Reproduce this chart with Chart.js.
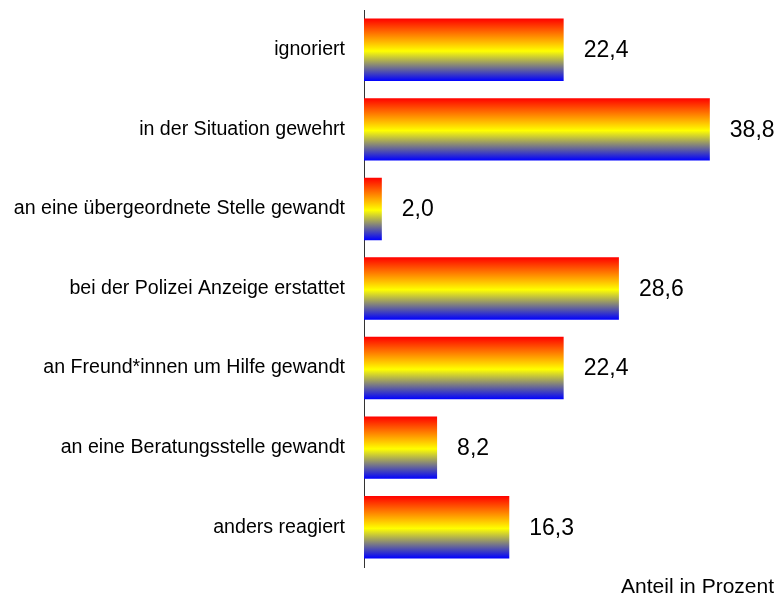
<!DOCTYPE html>
<html>
<head>
<meta charset="utf-8">
<script src="https://cdn.jsdelivr.net/npm/chart.js@4/dist/chart.umd.min.js"></script>
<style>
  html, body { margin: 0; padding: 0; background: #fff; }
  canvas { display: block; }
</style>
</head>
<body>
<canvas id="reactionChart" width="779" height="598"></canvas>
<script>
// Data
const categories = [
  'ignoriert',
  'in der Situation gewehrt',
  'an eine übergeordnete Stelle gewandt',
  'bei der Polizei Anzeige erstattet',
  'an Freund*innen um Hilfe gewandt',
  'an eine Beratungsstelle gewandt',
  'anders reagiert'
];
const shares = [22.4, 38.8, 2.0, 28.6, 22.4, 8.2, 16.3];
const axisTitle = 'Anteil in Prozent';

const FONT = 'Arial, "Liberation Sans", sans-serif';

// ---- gradient fill per bar (red -> yellow -> blue, top to bottom) ----
const barGradient = {
  id: 'barGradient',
  beforeDatasetsDraw(chart) {
    const ctx = chart.ctx;
    chart.getDatasetMeta(0).data.forEach(bar => {
      const top = bar.y - bar.height / 2;
      const g = ctx.createLinearGradient(0, top, 0, top + bar.height);
      g.addColorStop(0, '#ff0000');
      g.addColorStop(0.52, '#ffff00');
      g.addColorStop(1, '#0000ff');
      // options object is shared between bars, so give each its own copy
      bar.options = Object.assign({}, bar.options, { backgroundColor: g });
    });
  }
};

// ---- value labels to the right of each bar ----
const valueLabels = {
  id: 'valueLabels',
  afterDatasetsDraw(chart) {
    const ctx = chart.ctx;
    ctx.save();
    ctx.font = '23px ' + FONT;
    ctx.fillStyle = '#000';
    ctx.textAlign = 'left';
    ctx.textBaseline = 'middle';
    chart.getDatasetMeta(0).data.forEach((bar, i) => {
      ctx.fillText(shares[i].toFixed(1).replace('.', ','), bar.x + 20, bar.y + 1);
    });
    ctx.restore();
  }
};

new Chart(document.getElementById('reactionChart'), {
  type: 'bar',
  data: {
    labels: categories,
    datasets: [{
      data: shares,
      backgroundColor: '#ff0',
      borderWidth: 0,
      categoryPercentage: 1,
      barPercentage: 0.785
    }]
  },
  options: {
    indexAxis: 'y',
    responsive: false,
    animation: false,
    layout: { padding: { top: 10, right: 5, bottom: 0, left: 0 } },
    plugins: {
      legend: { display: false },
      tooltip: { enabled: false }
    },
    scales: {
      x: {
        min: 0,
        max: 46,
        grid: { display: false, drawTicks: false },
        border: { display: false },
        ticks: { display: false },
        title: {
          display: true,
          text: axisTitle,
          align: 'end',
          color: '#000',
          font: { family: FONT, size: 21, lineHeight: 1 },
          padding: { top: 10, bottom: 0 }
        }
      },
      y: {
        grid: { display: false, drawTicks: false },
        border: { display: true, color: '#333', width: 1 },
        ticks: {
          color: '#000',
          padding: 19,
          font: { family: FONT, size: 19.6 }
        },
        afterFit(scale) {
          scale.width = 364;
          scale.paddingTop = 0;
          scale.paddingBottom = 0;
        }
      }
    }
  },
  plugins: [barGradient, valueLabels]
});
</script>
</body>
</html>
